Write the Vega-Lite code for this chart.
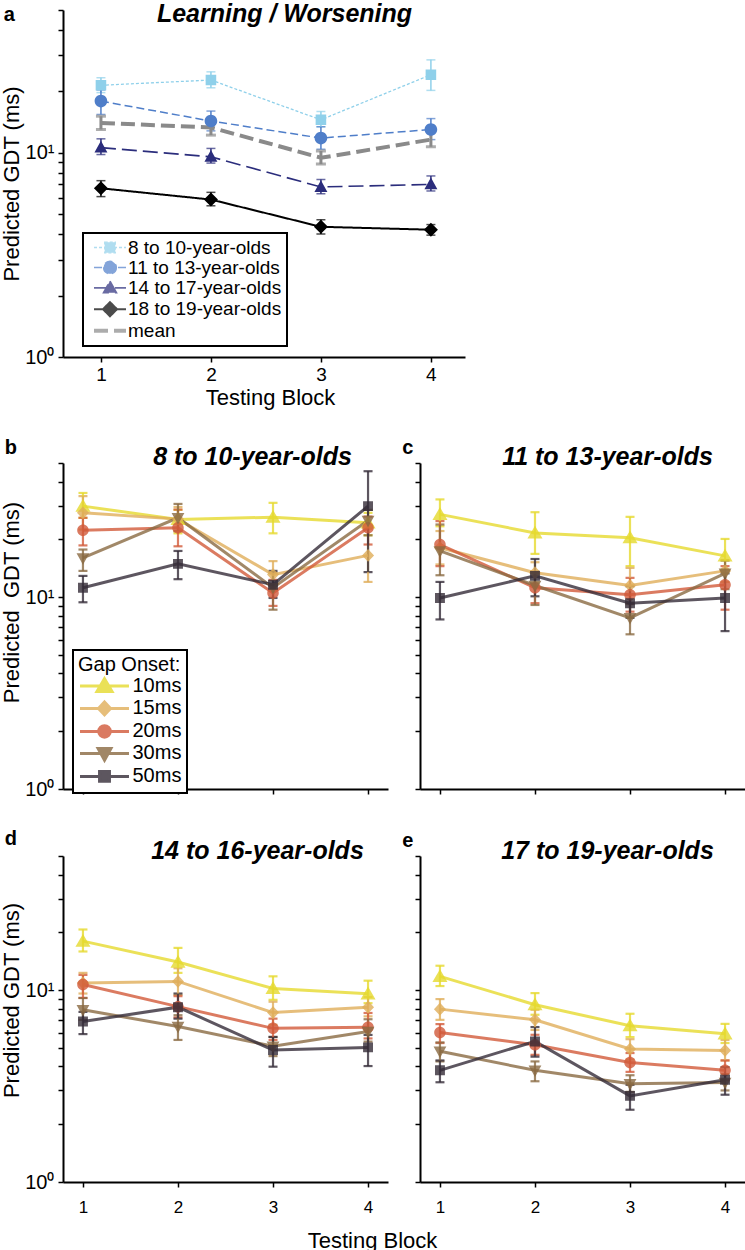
{
"$schema": "https://vega.github.io/schema/vega-lite/v6.json",
"padding": {"left": 0, "top": 1, "right": 0, "bottom": 0},
"background": "white",
"datasets": {
"a": [
{"group":"8 to 10-year-olds","block":1,"gdt":21.4,"lo":19.7,"hi":23.3},
{"group":"8 to 10-year-olds","block":2,"gdt":22.7,"lo":20.8,"hi":24.9},
{"group":"8 to 10-year-olds","block":3,"gdt":14.5,"lo":13.4,"hi":15.9},
{"group":"8 to 10-year-olds","block":4,"gdt":24.1,"lo":20.2,"hi":28.5},
{"group":"11 to 13-year-olds","block":1,"gdt":17.9,"lo":15.4,"hi":20.3},
{"group":"11 to 13-year-olds","block":2,"gdt":14.3,"lo":12.8,"hi":16.0},
{"group":"11 to 13-year-olds","block":3,"gdt":11.8,"lo":10.4,"hi":13.4},
{"group":"11 to 13-year-olds","block":4,"gdt":13.0,"lo":11.6,"hi":14.7},
{"group":"14 to 17-year-olds","block":1,"gdt":10.6,"lo":9.8,"hi":11.7},
{"group":"14 to 17-year-olds","block":2,"gdt":9.55,"lo":8.9,"hi":10.5},
{"group":"14 to 17-year-olds","block":3,"gdt":6.8,"lo":6.3,"hi":7.4},
{"group":"14 to 17-year-olds","block":4,"gdt":7.0,"lo":6.5,"hi":7.7},
{"group":"18 to 19-year-olds","block":1,"gdt":6.7,"lo":6.1,"hi":7.3},
{"group":"18 to 19-year-olds","block":2,"gdt":5.9,"lo":5.5,"hi":6.4},
{"group":"18 to 19-year-olds","block":3,"gdt":4.34,"lo":4.0,"hi":4.7},
{"group":"18 to 19-year-olds","block":4,"gdt":4.2,"lo":3.95,"hi":4.45},
{"group":"mean","block":1,"gdt":14.0,"lo":13.0,"hi":15.1},
{"group":"mean","block":2,"gdt":13.3,"lo":12.2,"hi":14.2},
{"group":"mean","block":3,"gdt":9.45,"lo":8.8,"hi":10.2},
{"group":"mean","block":4,"gdt":11.6,"lo":10.7,"hi":12.8}
],
"bde": [
{"panel":"b","onset":"10ms","block":1,"gdt":29.8,"lo":25.9,"hi":34.9},
{"panel":"b","onset":"10ms","block":2,"gdt":25.4,"lo":21.5,"hi":28.5},
{"panel":"b","onset":"10ms","block":3,"gdt":26.1,"lo":21.5,"hi":31.0},
{"panel":"b","onset":"10ms","block":4,"gdt":24.4,"lo":21.0,"hi":27.5},
{"panel":"b","onset":"15ms","block":1,"gdt":27.5,"lo":22.5,"hi":33.6},
{"panel":"b","onset":"15ms","block":2,"gdt":25.5,"lo":22.0,"hi":29.5},
{"panel":"b","onset":"15ms","block":3,"gdt":13.1,"lo":11.0,"hi":15.4},
{"panel":"b","onset":"15ms","block":4,"gdt":16.5,"lo":12.0,"hi":22.7},
{"panel":"b","onset":"20ms","block":1,"gdt":22.3,"lo":18.6,"hi":25.9},
{"panel":"b","onset":"20ms","block":2,"gdt":23.0,"lo":18.4,"hi":28.6},
{"panel":"b","onset":"20ms","block":3,"gdt":10.5,"lo":9.0,"hi":12.3},
{"panel":"b","onset":"20ms","block":4,"gdt":23.0,"lo":18.8,"hi":26.3},
{"panel":"b","onset":"30ms","block":1,"gdt":16.0,"lo":13.7,"hi":17.7},
{"panel":"b","onset":"30ms","block":2,"gdt":25.9,"lo":22.1,"hi":30.6},
{"panel":"b","onset":"30ms","block":3,"gdt":11.2,"lo":8.6,"hi":13.4},
{"panel":"b","onset":"30ms","block":4,"gdt":25.1,"lo":21.0,"hi":28.5},
{"panel":"b","onset":"50ms","block":1,"gdt":11.2,"lo":9.4,"hi":12.9},
{"panel":"b","onset":"50ms","block":2,"gdt":14.9,"lo":12.4,"hi":17.4},
{"panel":"b","onset":"50ms","block":3,"gdt":11.6,"lo":9.9,"hi":13.7},
{"panel":"b","onset":"50ms","block":4,"gdt":29.8,"lo":13.5,"hi":45.3},
{"panel":"c","onset":"10ms","block":1,"gdt":27.0,"lo":23.4,"hi":32.3},
{"panel":"c","onset":"10ms","block":2,"gdt":21.6,"lo":16.8,"hi":27.7},
{"panel":"c","onset":"10ms","block":3,"gdt":20.4,"lo":14.5,"hi":26.2},
{"panel":"c","onset":"10ms","block":4,"gdt":16.4,"lo":13.9,"hi":20.1},
{"panel":"c","onset":"15ms","block":1,"gdt":18.1,"lo":14.8,"hi":22.1},
{"panel":"c","onset":"15ms","block":2,"gdt":13.4,"lo":11.8,"hi":15.2},
{"panel":"c","onset":"15ms","block":3,"gdt":11.5,"lo":9.3,"hi":14.2},
{"panel":"c","onset":"15ms","block":4,"gdt":13.7,"lo":12.0,"hi":15.6},
{"panel":"c","onset":"20ms","block":1,"gdt":18.8,"lo":14.5,"hi":24.9},
{"panel":"c","onset":"20ms","block":2,"gdt":11.2,"lo":9.3,"hi":13.4},
{"panel":"c","onset":"20ms","block":3,"gdt":10.3,"lo":8.4,"hi":12.6},
{"panel":"c","onset":"20ms","block":4,"gdt":11.6,"lo":8.6,"hi":14.5},
{"panel":"c","onset":"30ms","block":1,"gdt":17.4,"lo":13.0,"hi":23.9},
{"panel":"c","onset":"30ms","block":2,"gdt":11.5,"lo":9.1,"hi":13.6},
{"panel":"c","onset":"30ms","block":3,"gdt":7.8,"lo":6.4,"hi":9.2},
{"panel":"c","onset":"30ms","block":4,"gdt":13.3,"lo":11.0,"hi":15.5},
{"panel":"c","onset":"50ms","block":1,"gdt":9.9,"lo":7.65,"hi":12.0},
{"panel":"c","onset":"50ms","block":2,"gdt":12.9,"lo":10.1,"hi":15.8},
{"panel":"c","onset":"50ms","block":3,"gdt":9.3,"lo":7.8,"hi":11.4},
{"panel":"c","onset":"50ms","block":4,"gdt":9.9,"lo":6.65,"hi":13.3},
{"panel":"d","onset":"10ms","block":1,"gdt":18.0,"lo":15.9,"hi":20.7},
{"panel":"d","onset":"10ms","block":2,"gdt":14.0,"lo":12.3,"hi":16.6},
{"panel":"d","onset":"10ms","block":3,"gdt":10.2,"lo":8.9,"hi":11.8},
{"panel":"d","onset":"10ms","block":4,"gdt":9.57,"lo":8.55,"hi":11.2},
{"panel":"d","onset":"15ms","block":1,"gdt":10.9,"lo":9.6,"hi":12.3},
{"panel":"d","onset":"15ms","block":2,"gdt":11.1,"lo":9.45,"hi":13.0},
{"panel":"d","onset":"15ms","block":3,"gdt":7.64,"lo":6.6,"hi":8.7},
{"panel":"d","onset":"15ms","block":4,"gdt":8.15,"lo":7.3,"hi":9.2},
{"panel":"d","onset":"20ms","block":1,"gdt":10.7,"lo":9.1,"hi":12.0},
{"panel":"d","onset":"20ms","block":2,"gdt":8.2,"lo":7.2,"hi":9.3},
{"panel":"d","onset":"20ms","block":3,"gdt":6.32,"lo":5.5,"hi":7.1},
{"panel":"d","onset":"20ms","block":4,"gdt":6.4,"lo":5.6,"hi":7.6},
{"panel":"d","onset":"30ms","block":1,"gdt":7.9,"lo":7.0,"hi":9.1},
{"panel":"d","onset":"30ms","block":2,"gdt":6.46,"lo":5.5,"hi":7.4},
{"panel":"d","onset":"30ms","block":3,"gdt":5.1,"lo":4.53,"hi":5.7},
{"panel":"d","onset":"30ms","block":4,"gdt":6.08,"lo":5.39,"hi":7.05},
{"panel":"d","onset":"50ms","block":1,"gdt":6.86,"lo":5.9,"hi":7.7},
{"panel":"d","onset":"50ms","block":2,"gdt":8.15,"lo":7.1,"hi":9.6},
{"panel":"d","onset":"50ms","block":3,"gdt":4.87,"lo":3.99,"hi":5.7},
{"panel":"d","onset":"50ms","block":4,"gdt":5.03,"lo":4.02,"hi":5.84},
{"panel":"e","onset":"10ms","block":1,"gdt":11.8,"lo":10.5,"hi":13.4},
{"panel":"e","onset":"10ms","block":2,"gdt":8.39,"lo":7.44,"hi":9.65},
{"panel":"e","onset":"10ms","block":3,"gdt":6.52,"lo":5.69,"hi":7.53},
{"panel":"e","onset":"10ms","block":4,"gdt":5.92,"lo":5.3,"hi":6.67},
{"panel":"e","onset":"15ms","block":1,"gdt":7.96,"lo":7.0,"hi":8.98},
{"panel":"e","onset":"15ms","block":2,"gdt":7.0,"lo":6.2,"hi":7.9},
{"panel":"e","onset":"15ms","block":3,"gdt":4.93,"lo":4.35,"hi":5.55},
{"panel":"e","onset":"15ms","block":4,"gdt":4.85,"lo":4.3,"hi":5.5},
{"panel":"e","onset":"20ms","block":1,"gdt":6.02,"lo":5.3,"hi":6.65},
{"panel":"e","onset":"20ms","block":2,"gdt":5.19,"lo":4.6,"hi":5.85},
{"panel":"e","onset":"20ms","block":3,"gdt":4.2,"lo":3.75,"hi":4.7},
{"panel":"e","onset":"20ms","block":4,"gdt":3.82,"lo":3.4,"hi":4.3},
{"panel":"e","onset":"30ms","block":1,"gdt":4.8,"lo":4.25,"hi":5.34},
{"panel":"e","onset":"30ms","block":2,"gdt":3.82,"lo":3.35,"hi":4.25},
{"panel":"e","onset":"30ms","block":3,"gdt":3.25,"lo":2.95,"hi":3.6},
{"panel":"e","onset":"30ms","block":4,"gdt":3.3,"lo":3.0,"hi":3.65},
{"panel":"e","onset":"50ms","block":1,"gdt":3.82,"lo":3.31,"hi":4.3},
{"panel":"e","onset":"50ms","block":2,"gdt":5.4,"lo":4.5,"hi":6.42},
{"panel":"e","onset":"50ms","block":3,"gdt":2.81,"lo":2.38,"hi":3.21},
{"panel":"e","onset":"50ms","block":4,"gdt":3.41,"lo":2.85,"hi":3.97}
]
},
"spacing": 30,
"bounds": "full",
"resolve": {"scale": {"color": "independent", "shape": "independent", "stroke": "independent", "strokeDash": "independent", "strokeWidth": "independent"}, "legend": {"color": "independent", "shape": "independent", "stroke": "independent", "strokeDash": "independent", "strokeWidth": "independent"}},
"vconcat": [
{
"width": 402, "height": 347,
"data": {"name": "a"},
"title": {"text": "a", "dx": 3, "dy": 28},
"layer": [
{
"transform": [{"filter": "datum.group != 'mean'"}],
"mark": {"type": "errorbar", "thickness": 1.5, "ticks": {"size": 9, "thickness": 1.5}},
"encoding": {
"x": {"field": "block", "type": "quantitative", "scale": {"domain": [0.655, 4.31], "nice": false, "zero": false}, "axis": null},
"y": {"field": "lo", "type": "quantitative", "scale": {"type": "log", "domain": [1, 50], "nice": false}, "axis": {"values": [1,2,3,4,5,6,7,8,9,10,20,30,40,50], "labelExpr": "datum.value == 1 ? '10⁰' : datum.value == 10 ? '10¹' : ''", "labelFontSize": 20, "labelPadding": 4, "titlePadding": 1, "title": "Predicted GDT (ms)"}},
"y2": {"field": "hi"},
"color": {"field": "group", "type": "nominal", "scale": {"domain": ["8 to 10-year-olds","11 to 13-year-olds","14 to 17-year-olds","18 to 19-year-olds","mean"], "range": ["#8fd0ea","#4f7ec9","#2b2d7c","#000000","#8a8a8a"]}}
}
},
{
"transform": [{"filter": "datum.group == 'mean'"}],
"mark": {"type": "errorbar", "thickness": 3, "ticks": {"size": 10, "thickness": 3}},
"encoding": {
"x": {"field": "block", "type": "quantitative", "scale": {"domain": [0.655, 4.31], "nice": false, "zero": false}, "axis": null},
"y": {"field": "lo", "type": "quantitative", "scale": {"type": "log", "domain": [1, 50], "nice": false}, "axis": {"values": [1,2,3,4,5,6,7,8,9,10,20,30,40,50], "labelExpr": "datum.value == 1 ? '10⁰' : datum.value == 10 ? '10¹' : ''", "labelFontSize": 20, "labelPadding": 4, "titlePadding": 1, "title": "Predicted GDT (ms)"}},
"y2": {"field": "hi"},
"color": {"field": "group", "type": "nominal", "scale": {"domain": ["8 to 10-year-olds","11 to 13-year-olds","14 to 17-year-olds","18 to 19-year-olds","mean"], "range": ["#8fd0ea","#4f7ec9","#2b2d7c","#000000","#8a8a8a"]}}
}
},
{
"mark": {"type": "line"},
"encoding": {
"x": {"field": "block", "type": "quantitative", "scale": {"domain": [0.655, 4.31], "nice": false, "zero": false}, "axis": {"values": [1,2,3,4], "labelFontSize": 19, "labelPadding": 3, "title": "Testing Block", "titleX": 207, "titleY": 47, "titleBaseline": "alphabetic"}},
"y": {"field": "gdt", "type": "quantitative", "scale": {"type": "log", "domain": [1, 50], "nice": false}, "axis": {"values": [1,2,3,4,5,6,7,8,9,10,20,30,40,50], "labelExpr": "datum.value == 1 ? '10⁰' : datum.value == 10 ? '10¹' : ''", "labelFontSize": 20, "labelPadding": 4, "titlePadding": 1, "title": "Predicted GDT (ms)"}},
"color": {"field": "group", "type": "nominal", "scale": {"domain": ["8 to 10-year-olds","11 to 13-year-olds","14 to 17-year-olds","18 to 19-year-olds","mean"], "range": ["#8fd0ea","#4f7ec9","#2b2d7c","#000000","#8a8a8a"]}},
"strokeDash": {"field": "group", "type": "nominal", "scale": {"domain": ["8 to 10-year-olds","11 to 13-year-olds","14 to 17-year-olds","18 to 19-year-olds","mean"], "range": [[3,2],[8,4],[15,6],[1,0],[14,6]]}},
"strokeWidth": {"field": "group", "type": "nominal", "scale": {"type": "ordinal", "domain": ["8 to 10-year-olds","11 to 13-year-olds","14 to 17-year-olds","18 to 19-year-olds","mean"], "range": [1.3,1.5,1.6,2,4]}}
}
},
{
"mark": {"type": "point", "filled": true, "opacity": 1, "strokeOpacity": 0, "size": 256},
"encoding": {
"x": {"field": "block", "type": "quantitative", "scale": {"domain": [0.655, 4.31], "nice": false, "zero": false}, "axis": {"orient": "top", "domain": false, "ticks": false, "labels": false, "title": "Learning / Worsening", "titleFontSize": 25, "titleFontWeight": "bold", "titleFontStyle": "italic", "titleX": 221, "titleY": 11, "titleBaseline": "alphabetic"}},
"y": {"field": "gdt", "type": "quantitative", "scale": {"type": "log", "domain": [1, 50], "nice": false}, "axis": {"values": [1,2,3,4,5,6,7,8,9,10,20,30,40,50], "labelExpr": "datum.value == 1 ? '10⁰' : datum.value == 10 ? '10¹' : ''", "labelFontSize": 20, "labelPadding": 4, "titlePadding": 1, "title": "Predicted GDT (ms)"}},
"color": {"field": "group", "type": "nominal", "scale": {"domain": ["8 to 10-year-olds","11 to 13-year-olds","14 to 17-year-olds","18 to 19-year-olds","mean"], "range": ["#8fd0ea","#4f7ec9","#2b2d7c","#000000","#8a8a8a"]},
"legend": {"orient": "none", "legendX": 20, "legendY": 223, "title": null, "labelFontSize": 19, "labelOffset": 8, "symbolSize": 256, "symbolOffset": 12, "symbolOpacity": 1, "symbolStrokeWidth": 1.5, "strokeColor": "black", "fillColor": "white", "padding": 5, "rowPadding": -0.65, "labelExpr": "datum.label == '8 to 10-year-olds' ? '\u20078 to 10-year-olds' : datum.label"}},
"shape": {"field": "group", "type": "nominal", "scale": {"domain": ["8 to 10-year-olds","11 to 13-year-olds","14 to 17-year-olds","18 to 19-year-olds","mean"], "range": ["M-2,0H2M-0.66,-0.66H0.66V0.66H-0.66Z","M-2,0H2M0.79,0A0.79,0.79 0 1,1 -0.79,0A0.79,0.79 0 1,1 0.79,0Z","M-2,0H2M0,-0.85L0.81,0.62H-0.81Z","M-2,0H2M0,-0.88L0.88,0L0,0.88L-0.88,0Z","M-2,0H2"]}},
"stroke": {"field": "group", "type": "nominal", "scale": {"domain": ["8 to 10-year-olds","11 to 13-year-olds","14 to 17-year-olds","18 to 19-year-olds","mean"], "range": ["#8fd0ea","#4f7ec9","#2b2d7c","#000000","#8a8a8a"]}}
}
}
],
"resolve": {"axis": {"x": "independent"}}
},
{
"hconcat": [
{
"width": 325, "height": 326,
"data": {"name": "bde"},
"transform": [{"filter": "datum.panel == 'b'"}],
"title": {"text": "b", "dx": 4, "dy": 18},
"layer": [
{
"mark": {"type": "errorbar", "thickness": 2.2, "opacity": 0.8, "ticks": {"size": 9, "thickness": 2.2}},
"encoding": {
"x": {"field": "block", "type": "quantitative", "scale": {"domain": [0.79, 4.21], "nice": false, "zero": false}, "axis": null},
"y": {"field": "lo", "type": "quantitative", "scale": {"type": "log", "domain": [1, 50], "nice": false}, "axis": {"values": [1,2,3,4,5,6,7,8,9,10,20,30,40,50], "labelExpr": "datum.value == 1 ? '10⁰' : datum.value == 10 ? '10¹' : ''", "labelFontSize": 20, "labelPadding": 4, "titlePadding": 1, "title": "Predicted\u00a0 GDT (ms)", "titleY": 139}},
"y2": {"field": "hi"},
"color": {"field": "onset", "type": "nominal", "scale": {"domain": ["10ms","15ms","20ms","30ms","50ms"], "range": ["#e6da2e","#e0ae5a","#d25a3a","#8a6a42","#352c38"]}}
}
},
{
"mark": {"type": "line", "strokeWidth": 3, "opacity": 0.8},
"encoding": {
"x": {"field": "block", "type": "quantitative", "scale": {"domain": [0.79, 4.21], "nice": false, "zero": false}, "axis": {"values": [1,2,3,4], "labels": false, "title": null}},
"y": {"field": "gdt", "type": "quantitative", "scale": {"type": "log", "domain": [1, 50], "nice": false}, "axis": {"values": [1,2,3,4,5,6,7,8,9,10,20,30,40,50], "labelExpr": "datum.value == 1 ? '10⁰' : datum.value == 10 ? '10¹' : ''", "labelFontSize": 20, "labelPadding": 4, "titlePadding": 1, "title": "Predicted\u00a0 GDT (ms)", "titleY": 139}},
"color": {"field": "onset", "type": "nominal", "scale": {"domain": ["10ms","15ms","20ms","30ms","50ms"], "range": ["#e6da2e","#e0ae5a","#d25a3a","#8a6a42","#352c38"]}}
}
},
{
"mark": {"type": "point", "filled": true, "opacity": 0.8, "strokeOpacity": 0, "size": 256},
"encoding": {
"x": {"field": "block", "type": "quantitative", "scale": {"domain": [0.79, 4.21], "nice": false, "zero": false}, "axis": {"orient": "top", "domain": false, "ticks": false, "labels": false, "title": "8 to 10-year-olds", "titleFontSize": 25, "titleFontWeight": "bold", "titleFontStyle": "italic", "titleX": 189, "titleY": 1, "titleBaseline": "alphabetic"}},
"y": {"field": "gdt", "type": "quantitative", "scale": {"type": "log", "domain": [1, 50], "nice": false}, "axis": {"values": [1,2,3,4,5,6,7,8,9,10,20,30,40,50], "labelExpr": "datum.value == 1 ? '10⁰' : datum.value == 10 ? '10¹' : ''", "labelFontSize": 20, "labelPadding": 4, "titlePadding": 1, "title": "Predicted\u00a0 GDT (ms)", "titleY": 139}},
"color": {"field": "onset", "type": "nominal", "scale": {"domain": ["10ms","15ms","20ms","30ms","50ms"], "range": ["#e6da2e","#e0ae5a","#d25a3a","#8a6a42","#352c38"]},
"legend": {"orient": "none", "legendX": 10, "legendY": 187, "title": "Gap Onset:", "titleFontSize": 20, "titleFontWeight": "normal", "titlePadding": 1, "labelFontSize": 20, "labelOffset": 18, "symbolSize": 256, "symbolOffset": 16.5, "symbolOpacity": 0.8, "symbolStrokeWidth": 3, "strokeColor": "black", "fillColor": "white", "padding": 5, "rowPadding": -2.6}},
"shape": {"field": "onset", "type": "nominal", "scale": {"domain": ["10ms","15ms","20ms","30ms","50ms"], "range": ["M-3.06,0H3.06M0,-0.9L0.94,0.7H-0.94Z","M-3.06,0H3.06M0,-0.8L0.75,0L0,0.8L-0.75,0Z","M-3.06,0H3.06M0.72,0A0.72,0.72 0 1,1 -0.72,0A0.72,0.72 0 1,1 0.72,0Z","M-3.06,0H3.06M0,0.85L0.8,-0.6H-0.8Z","M-3.06,0H3.06M-0.62,-0.62H0.62V0.62H-0.62Z"]}},
"stroke": {"field": "onset", "type": "nominal", "scale": {"domain": ["10ms","15ms","20ms","30ms","50ms"], "range": ["#e6da2e","#e0ae5a","#d25a3a","#8a6a42","#352c38"]}}
}
}
],
"resolve": {"axis": {"x": "independent"}}
},
{
"width": 325, "height": 326,
"data": {"name": "bde"},
"transform": [{"filter": "datum.panel == 'c'"}],
"title": {"text": "c", "dx": -12, "dy": 18},
"layer": [
{
"mark": {"type": "errorbar", "thickness": 2.2, "opacity": 0.8, "ticks": {"size": 9, "thickness": 2.2}},
"encoding": {
"x": {"field": "block", "type": "quantitative", "scale": {"domain": [0.79, 4.21], "nice": false, "zero": false}, "axis": null},
"y": {"field": "lo", "type": "quantitative", "scale": {"type": "log", "domain": [1, 50], "nice": false}, "axis": {"values": [1,2,3,4,5,6,7,8,9,10,20,30,40,50], "labels": false, "title": null}},
"y2": {"field": "hi"},
"color": {"field": "onset", "type": "nominal", "scale": {"domain": ["10ms","15ms","20ms","30ms","50ms"], "range": ["#e6da2e","#e0ae5a","#d25a3a","#8a6a42","#352c38"]}, "legend": null}
}
},
{
"mark": {"type": "line", "strokeWidth": 3, "opacity": 0.8},
"encoding": {
"x": {"field": "block", "type": "quantitative", "scale": {"domain": [0.79, 4.21], "nice": false, "zero": false}, "axis": {"values": [1,2,3,4], "labels": false, "title": null}},
"y": {"field": "gdt", "type": "quantitative", "scale": {"type": "log", "domain": [1, 50], "nice": false}, "axis": {"values": [1,2,3,4,5,6,7,8,9,10,20,30,40,50], "labels": false, "title": null}},
"color": {"field": "onset", "type": "nominal", "scale": {"domain": ["10ms","15ms","20ms","30ms","50ms"], "range": ["#e6da2e","#e0ae5a","#d25a3a","#8a6a42","#352c38"]}, "legend": null}
}
},
{
"mark": {"type": "point", "filled": true, "opacity": 0.8, "strokeOpacity": 0, "size": 256},
"encoding": {
"x": {"field": "block", "type": "quantitative", "scale": {"domain": [0.79, 4.21], "nice": false, "zero": false}, "axis": {"orient": "top", "domain": false, "ticks": false, "labels": false, "title": "11 to 13-year-olds", "titleFontSize": 25, "titleFontWeight": "bold", "titleFontStyle": "italic", "titleX": 187, "titleY": 1, "titleBaseline": "alphabetic"}},
"y": {"field": "gdt", "type": "quantitative", "scale": {"type": "log", "domain": [1, 50], "nice": false}, "axis": {"values": [1,2,3,4,5,6,7,8,9,10,20,30,40,50], "labels": false, "title": null}},
"color": {"field": "onset", "type": "nominal", "scale": {"domain": ["10ms","15ms","20ms","30ms","50ms"], "range": ["#e6da2e","#e0ae5a","#d25a3a","#8a6a42","#352c38"]}, "legend": null},
"shape": {"field": "onset", "type": "nominal", "scale": {"domain": ["10ms","15ms","20ms","30ms","50ms"], "range": ["M-3.06,0H3.06M0,-0.9L0.94,0.7H-0.94Z","M-3.06,0H3.06M0,-0.8L0.75,0L0,0.8L-0.75,0Z","M-3.06,0H3.06M0.72,0A0.72,0.72 0 1,1 -0.72,0A0.72,0.72 0 1,1 0.72,0Z","M-3.06,0H3.06M0,0.85L0.8,-0.6H-0.8Z","M-3.06,0H3.06M-0.62,-0.62H0.62V0.62H-0.62Z"]}, "legend": null},
"stroke": {"field": "onset", "type": "nominal", "scale": {"domain": ["10ms","15ms","20ms","30ms","50ms"], "range": ["#e6da2e","#e0ae5a","#d25a3a","#8a6a42","#352c38"]}, "legend": null}
}
}
],
"resolve": {"axis": {"x": "independent"}}
}
],
"spacing": 32,
"bounds": "flush",
"resolve": {"scale": {"color": "independent", "shape": "independent", "stroke": "independent"}, "legend": {"color": "independent", "shape": "independent", "stroke": "independent"}}
},
{
"hconcat": [
{
"width": 325, "height": 326,
"data": {"name": "bde"},
"transform": [{"filter": "datum.panel == 'd'"}],
"title": {"text": "d", "dx": 4, "dy": 15},
"layer": [
{
"mark": {"type": "errorbar", "thickness": 2.2, "opacity": 0.8, "ticks": {"size": 9, "thickness": 2.2}},
"encoding": {
"x": {"field": "block", "type": "quantitative", "scale": {"domain": [0.79, 4.21], "nice": false, "zero": false}, "axis": null},
"y": {"field": "lo", "type": "quantitative", "scale": {"type": "log", "domain": [1, 50], "nice": false}, "axis": {"values": [1,2,3,4,5,6,7,8,9,10,20,30,40,50], "labelExpr": "datum.value == 1 ? '10⁰' : datum.value == 10 ? '10¹' : ''", "labelFontSize": 20, "labelPadding": 4, "titlePadding": 1, "title": "Predicted GDT (ms)", "titleY": 144}},
"y2": {"field": "hi"},
"color": {"field": "onset", "type": "nominal", "scale": {"domain": ["10ms","15ms","20ms","30ms","50ms"], "range": ["#e6da2e","#e0ae5a","#d25a3a","#8a6a42","#352c38"]}, "legend": null}
}
},
{
"mark": {"type": "line", "strokeWidth": 3, "opacity": 0.8},
"encoding": {
"x": {"field": "block", "type": "quantitative", "scale": {"domain": [0.79, 4.21], "nice": false, "zero": false}, "axis": {"values": [1,2,3,4], "labelFontSize": 17, "labelPadding": 12, "title": "Testing Block", "titleX": 309, "titleY": 65, "titleBaseline": "alphabetic"}},
"y": {"field": "gdt", "type": "quantitative", "scale": {"type": "log", "domain": [1, 50], "nice": false}, "axis": {"values": [1,2,3,4,5,6,7,8,9,10,20,30,40,50], "labelExpr": "datum.value == 1 ? '10⁰' : datum.value == 10 ? '10¹' : ''", "labelFontSize": 20, "labelPadding": 4, "titlePadding": 1, "title": "Predicted GDT (ms)", "titleY": 144}},
"color": {"field": "onset", "type": "nominal", "scale": {"domain": ["10ms","15ms","20ms","30ms","50ms"], "range": ["#e6da2e","#e0ae5a","#d25a3a","#8a6a42","#352c38"]}, "legend": null}
}
},
{
"mark": {"type": "point", "filled": true, "opacity": 0.8, "strokeOpacity": 0, "size": 256},
"encoding": {
"x": {"field": "block", "type": "quantitative", "scale": {"domain": [0.79, 4.21], "nice": false, "zero": false}, "axis": {"orient": "top", "domain": false, "ticks": false, "labels": false, "title": "14 to 16-year-olds", "titleFontSize": 25, "titleFontWeight": "bold", "titleFontStyle": "italic", "titleX": 194, "titleY": 2, "titleBaseline": "alphabetic"}},
"y": {"field": "gdt", "type": "quantitative", "scale": {"type": "log", "domain": [1, 50], "nice": false}, "axis": {"values": [1,2,3,4,5,6,7,8,9,10,20,30,40,50], "labelExpr": "datum.value == 1 ? '10⁰' : datum.value == 10 ? '10¹' : ''", "labelFontSize": 20, "labelPadding": 4, "titlePadding": 1, "title": "Predicted GDT (ms)", "titleY": 144}},
"color": {"field": "onset", "type": "nominal", "scale": {"domain": ["10ms","15ms","20ms","30ms","50ms"], "range": ["#e6da2e","#e0ae5a","#d25a3a","#8a6a42","#352c38"]}, "legend": null},
"shape": {"field": "onset", "type": "nominal", "scale": {"domain": ["10ms","15ms","20ms","30ms","50ms"], "range": ["M-3.06,0H3.06M0,-0.9L0.94,0.7H-0.94Z","M-3.06,0H3.06M0,-0.8L0.75,0L0,0.8L-0.75,0Z","M-3.06,0H3.06M0.72,0A0.72,0.72 0 1,1 -0.72,0A0.72,0.72 0 1,1 0.72,0Z","M-3.06,0H3.06M0,0.85L0.8,-0.6H-0.8Z","M-3.06,0H3.06M-0.62,-0.62H0.62V0.62H-0.62Z"]}, "legend": null},
"stroke": {"field": "onset", "type": "nominal", "scale": {"domain": ["10ms","15ms","20ms","30ms","50ms"], "range": ["#e6da2e","#e0ae5a","#d25a3a","#8a6a42","#352c38"]}, "legend": null}
}
}
],
"resolve": {"axis": {"x": "independent"}}
},
{
"width": 325, "height": 326,
"data": {"name": "bde"},
"transform": [{"filter": "datum.panel == 'e'"}],
"title": {"text": "e", "dx": -12, "dy": 17},
"layer": [
{
"mark": {"type": "errorbar", "thickness": 2.2, "opacity": 0.8, "ticks": {"size": 9, "thickness": 2.2}},
"encoding": {
"x": {"field": "block", "type": "quantitative", "scale": {"domain": [0.79, 4.21], "nice": false, "zero": false}, "axis": null},
"y": {"field": "lo", "type": "quantitative", "scale": {"type": "log", "domain": [1, 50], "nice": false}, "axis": {"values": [1,2,3,4,5,6,7,8,9,10,20,30,40,50], "labels": false, "title": null}},
"y2": {"field": "hi"},
"color": {"field": "onset", "type": "nominal", "scale": {"domain": ["10ms","15ms","20ms","30ms","50ms"], "range": ["#e6da2e","#e0ae5a","#d25a3a","#8a6a42","#352c38"]}, "legend": null}
}
},
{
"mark": {"type": "line", "strokeWidth": 3, "opacity": 0.8},
"encoding": {
"x": {"field": "block", "type": "quantitative", "scale": {"domain": [0.79, 4.21], "nice": false, "zero": false}, "axis": {"values": [1,2,3,4], "labelFontSize": 17, "labelPadding": 12, "title": null}},
"y": {"field": "gdt", "type": "quantitative", "scale": {"type": "log", "domain": [1, 50], "nice": false}, "axis": {"values": [1,2,3,4,5,6,7,8,9,10,20,30,40,50], "labels": false, "title": null}},
"color": {"field": "onset", "type": "nominal", "scale": {"domain": ["10ms","15ms","20ms","30ms","50ms"], "range": ["#e6da2e","#e0ae5a","#d25a3a","#8a6a42","#352c38"]}, "legend": null}
}
},
{
"mark": {"type": "point", "filled": true, "opacity": 0.8, "strokeOpacity": 0, "size": 256},
"encoding": {
"x": {"field": "block", "type": "quantitative", "scale": {"domain": [0.79, 4.21], "nice": false, "zero": false}, "axis": {"orient": "top", "domain": false, "ticks": false, "labels": false, "title": "17 to 19-year-olds", "titleFontSize": 25, "titleFontWeight": "bold", "titleFontStyle": "italic", "titleX": 187, "titleY": 2, "titleBaseline": "alphabetic"}},
"y": {"field": "gdt", "type": "quantitative", "scale": {"type": "log", "domain": [1, 50], "nice": false}, "axis": {"values": [1,2,3,4,5,6,7,8,9,10,20,30,40,50], "labels": false, "title": null}},
"color": {"field": "onset", "type": "nominal", "scale": {"domain": ["10ms","15ms","20ms","30ms","50ms"], "range": ["#e6da2e","#e0ae5a","#d25a3a","#8a6a42","#352c38"]}, "legend": null},
"shape": {"field": "onset", "type": "nominal", "scale": {"domain": ["10ms","15ms","20ms","30ms","50ms"], "range": ["M-3.06,0H3.06M0,-0.9L0.94,0.7H-0.94Z","M-3.06,0H3.06M0,-0.8L0.75,0L0,0.8L-0.75,0Z","M-3.06,0H3.06M0.72,0A0.72,0.72 0 1,1 -0.72,0A0.72,0.72 0 1,1 0.72,0Z","M-3.06,0H3.06M0,0.85L0.8,-0.6H-0.8Z","M-3.06,0H3.06M-0.62,-0.62H0.62V0.62H-0.62Z"]}, "legend": null},
"stroke": {"field": "onset", "type": "nominal", "scale": {"domain": ["10ms","15ms","20ms","30ms","50ms"], "range": ["#e6da2e","#e0ae5a","#d25a3a","#8a6a42","#352c38"]}, "legend": null}
}
}
],
"resolve": {"axis": {"x": "independent"}}
}
],
"spacing": 32,
"bounds": "flush",
"resolve": {"scale": {"color": "independent", "shape": "independent", "stroke": "independent"}, "legend": {"color": "independent", "shape": "independent", "stroke": "independent"}}
}
],
"config": {
"font": "Liberation Sans",
"view": {"stroke": null},
"axis": {"grid": false, "domainColor": "#000000", "domainWidth": 2, "tickColor": "#000000", "tickWidth": 1.5, "tickSize": 5, "labelColor": "#000000", "titleColor": "#000000", "labelFont": "Liberation Sans", "titleFont": "Liberation Sans", "titleFontWeight": "normal", "titleFontSize": 22, "labelFontSize": 19},
"legend": {"labelFont": "Liberation Sans", "titleFont": "Liberation Sans", "labelColor": "#000000", "titleColor": "#000000", "strokeWidth": 2},
"title": {"font": "Liberation Sans", "fontSize": 20, "fontWeight": "bold", "color": "#000000", "anchor": "start", "frame": "bounds", "baseline": "alphabetic", "offset": 0}
}
}
